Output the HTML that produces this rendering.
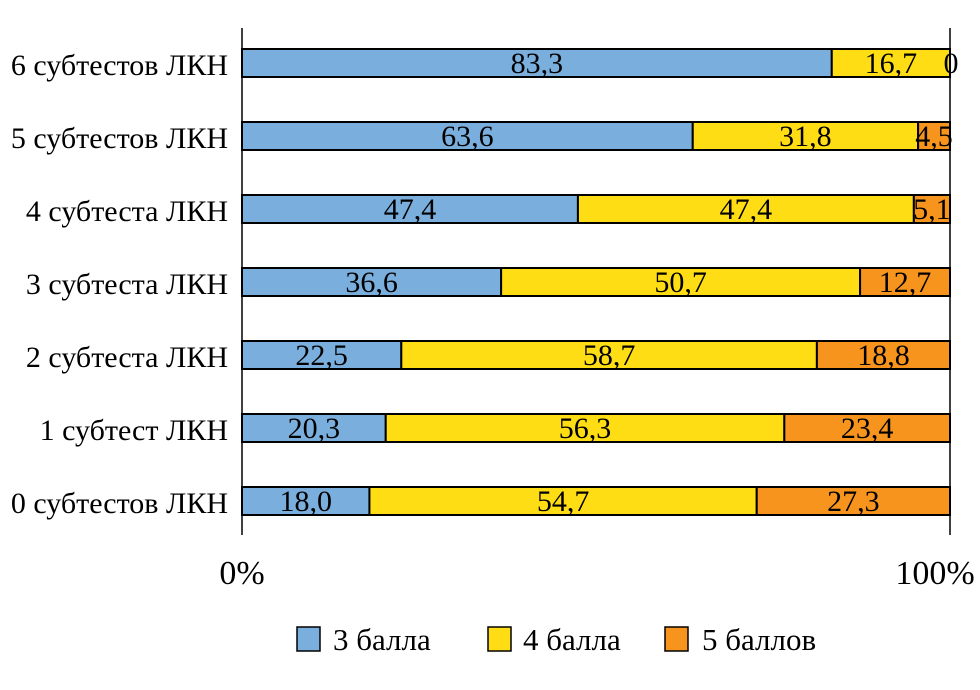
<!DOCTYPE html>
<html><head><meta charset="utf-8"><style>body{margin:0;background:#fff}</style></head>
<body>
<svg width="980" height="685" xmlns="http://www.w3.org/2000/svg" font-family="Liberation Serif, serif" fill="#000">
<line x1="242" y1="28" x2="242" y2="535" stroke="#000" stroke-width="1.5"/>
<line x1="950" y1="28" x2="950" y2="535" stroke="#000" stroke-width="1.5"/>
<g id="bars" stroke="#000" stroke-width="2"></g>
<g font-size="30" text-anchor="end">
<text x="228" y="75">6 субтестов ЛКН</text>
<text x="228" y="148">5 субтестов ЛКН</text>
<text x="228" y="221">4 субтеста ЛКН</text>
<text x="228" y="294">3 субтеста ЛКН</text>
<text x="228" y="367">2 субтеста ЛКН</text>
<text x="228" y="440">1 субтест ЛКН</text>
<text x="228" y="513">0 субтестов ЛКН</text>
</g>
<text x="242" y="584" font-size="34" text-anchor="middle">0%</text>
<text x="935" y="584" font-size="34" text-anchor="middle">100%</text>
<g font-size="31">
<rect x="297" y="627" width="23" height="24" fill="#7aaedc" stroke="#000" stroke-width="1.5"/><text x="333" y="650">3 балла</text>
<rect x="488" y="627" width="23" height="24" fill="#ffdd15" stroke="#000" stroke-width="1.5"/><text x="523" y="650">4 балла</text>
<rect x="665" y="627" width="23" height="24" fill="#f7941d" stroke="#000" stroke-width="1.5"/><text x="702" y="650">5 баллов</text>
</g>
<g id="vals" font-size="30" text-anchor="middle"></g>
</svg>
<script>
var d=[[83.3,16.7,0],[63.6,31.8,4.5],[47.4,47.4,5.1],[36.6,50.7,12.7],[22.5,58.7,18.8],[20.3,56.3,23.4],[18.0,54.7,27.3]];
var c=['#7aaedc','#ffdd15','#f7941d'];var ns='http://www.w3.org/2000/svg';
var b=document.getElementById('bars'),v=document.getElementById('vals');
d.forEach(function(r,i){var s=r[0]+r[1]+r[2],x=242,y=49+i*73;
r.forEach(function(p,j){var w=p/s*708;
var e=document.createElementNS(ns,'rect');e.setAttribute('x',x);e.setAttribute('y',y);e.setAttribute('width',w);e.setAttribute('height',28);e.setAttribute('fill',c[j]);b.appendChild(e);
var t=document.createElementNS(ns,'text');var cx=x+w/2;if(p==0)cx=951;t.setAttribute('x',cx);t.setAttribute('y',y+24);t.textContent=p.toFixed(p==0?0:1).replace('.',',');v.appendChild(t);
x+=w;});});
</script>
</body></html>
